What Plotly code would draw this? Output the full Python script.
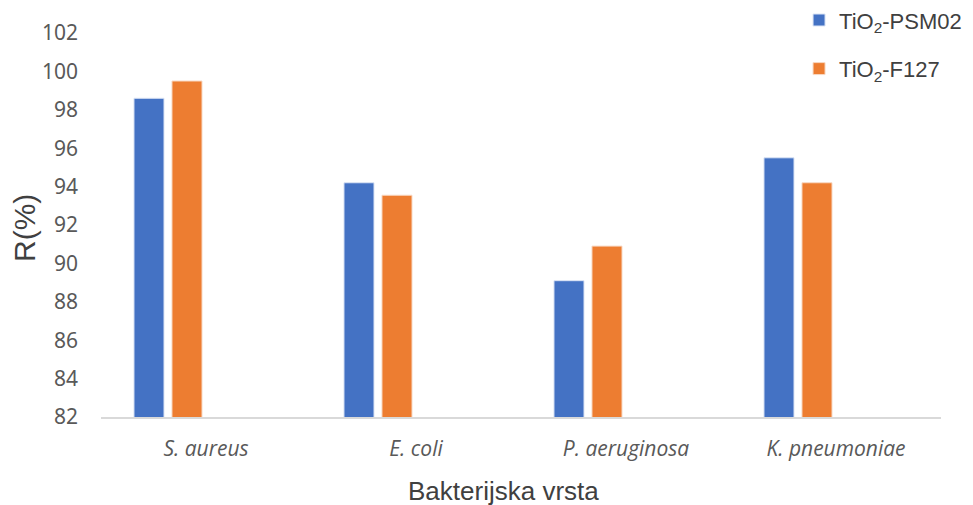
import plotly.graph_objects as go

categories = ["S. aureus", "E. coli", "P. aeruginosa", "K. pneumoniae"]
psm02 = [98.6, 94.2, 89.1, 95.5]
f127 = [99.5, 93.55, 90.9, 94.2]
series_names = ["TiO<sub>2</sub>-PSM02", "TiO<sub>2</sub>-F127"]
y_ticks = list(range(82, 103, 2))

# the page body adds an 8px offset, so margins are trimmed by 8 on top/left
W, H = 973, 505
L, T, R, B = 93, 25, 40, 96
plot_w = W - L - R
plot_h = H - T - B


def px_to_paper(x, y):
    # pixel position as seen in the page -> paper coords
    return (x - 8 - L) / plot_w, (H - B - (y - 8)) / plot_h


fig = go.Figure()
fig.add_trace(go.Bar(
    x=categories, y=psm02, name=series_names[0],
    marker=dict(color="#4472C4", line=dict(width=1, color="#dbe4f5")),
    width=0.143, offset=-0.343, legendgroup="a",
))
fig.add_trace(go.Bar(
    x=categories, y=f127, name=series_names[1],
    marker=dict(color="#ED7D31", line=dict(width=1, color="#f8d9c4")),
    width=0.143, offset=-0.162, legendgroup="b",
))

ry_x, ry_y = px_to_paper(24, 228)
bx_x, bx_y = px_to_paper(503, 491)

fig.update_layout(
    width=W, height=H,
    margin=dict(l=L, r=R, t=T, b=B, autoexpand=False),
    plot_bgcolor="white", paper_bgcolor="white",
    barmode="overlay",
    showlegend=True,
    legend=dict(
        x=0.831, y=1.088, xref="paper", yref="paper",
        xanchor="left", yanchor="top",
        font=dict(family="Liberation Sans, Arial, sans-serif", size=22, color="#404040"),
        tracegroupgap=17, traceorder="grouped",
        bgcolor="rgba(0,0,0,0)",
    ),
    xaxis=dict(
        showgrid=False, showline=True, linecolor="#d9d9d9", linewidth=2,
        ticks="", tickfont=dict(family="Open Sans, sans-serif", size=21, color="#595959"),
        ticklabelstandoff=12,
        tickvals=categories,
        ticktext=[f"<i>{c}</i>" for c in categories],
    ),
    yaxis=dict(
        range=[82, 102], tickvals=y_ticks, showgrid=False, showline=False,
        zeroline=False, ticks="",
        tickfont=dict(family="Noto Sans, Open Sans, sans-serif", size=21, color="#595959"),
        ticklabelstandoff=22,
    ),
    annotations=[
        dict(text="R(%)", x=ry_x, y=ry_y, xref="paper", yref="paper", showarrow=False,
             xanchor="center", yanchor="middle", textangle=-90,
             font=dict(family="Liberation Sans, Arial, sans-serif", size=30, color="#404040")),
        dict(text="Bakterijska vrsta", x=bx_x, y=bx_y, xref="paper", yref="paper",
             showarrow=False, xanchor="center", yanchor="middle",
             font=dict(family="Liberation Sans, Arial, sans-serif", size=26, color="#404040")),
    ],
)

fig.write_html("out.html")
